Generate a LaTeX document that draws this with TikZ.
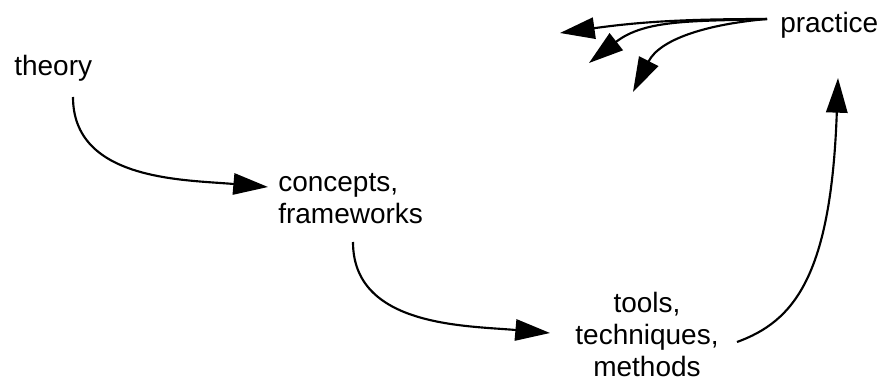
\documentclass[tikz,border=0pt]{standalone}
\usepackage{fontspec}
\setmainfont{Liberation Sans}
\usetikzlibrary{arrows.meta,calc}

\begin{document}
\begin{tikzpicture}[
  x=0.75pt,y=0.75pt,
  term/.style={font=\fontsize{21pt}{24pt}\selectfont,inner sep=0pt},
  link/.style={-{Triangle[length=26pt,width=16pt]},line width=1.6pt}
]
\useasboundingbox (0,0) rectangle (885,386);

\node[term,anchor=base west] (theory) at (14,310) {theory};
\node[term,align=left,anchor=north west] (concepts) at (278,213) {concepts,\\frameworks};
\node[term,align=center,anchor=north] (tools) at (647,94) {tools,\\techniques,\\methods};
\node[term,anchor=base west] (practice) at (780,353) {practice};

% free ends of the arrows that leave practice
\coordinate (back1) at (560,353);
\coordinate (back2) at (589,323);
\coordinate (back3) at (633,294);

\draw[link] ($(theory.base west)+(59,-21)$) to[out=-90,in=175] ($(concepts.north west)+(-10,-14)$);
\draw[link] ($(concepts.north west)+(75,-69)$) to[out=-90,in=175] ($(tools.north)+(-97,-41)$);
\draw[link] ($(tools.north)+(90,-50)$) to[out=20,in=-92,out looseness=0.55,in looseness=1.8] ($(practice.base west)+(58,-45)$);

\draw[link] ($(practice.base west)+(-13,14)$) to[out=180,in=8] (back1);
\draw[link] ($(practice.base west)+(-13,14)$) to[out=182,in=38] (back2);
\draw[link] ($(practice.base west)+(-13,14)$) to[out=185,in=63] (back3);
\end{tikzpicture}
\end{document}
